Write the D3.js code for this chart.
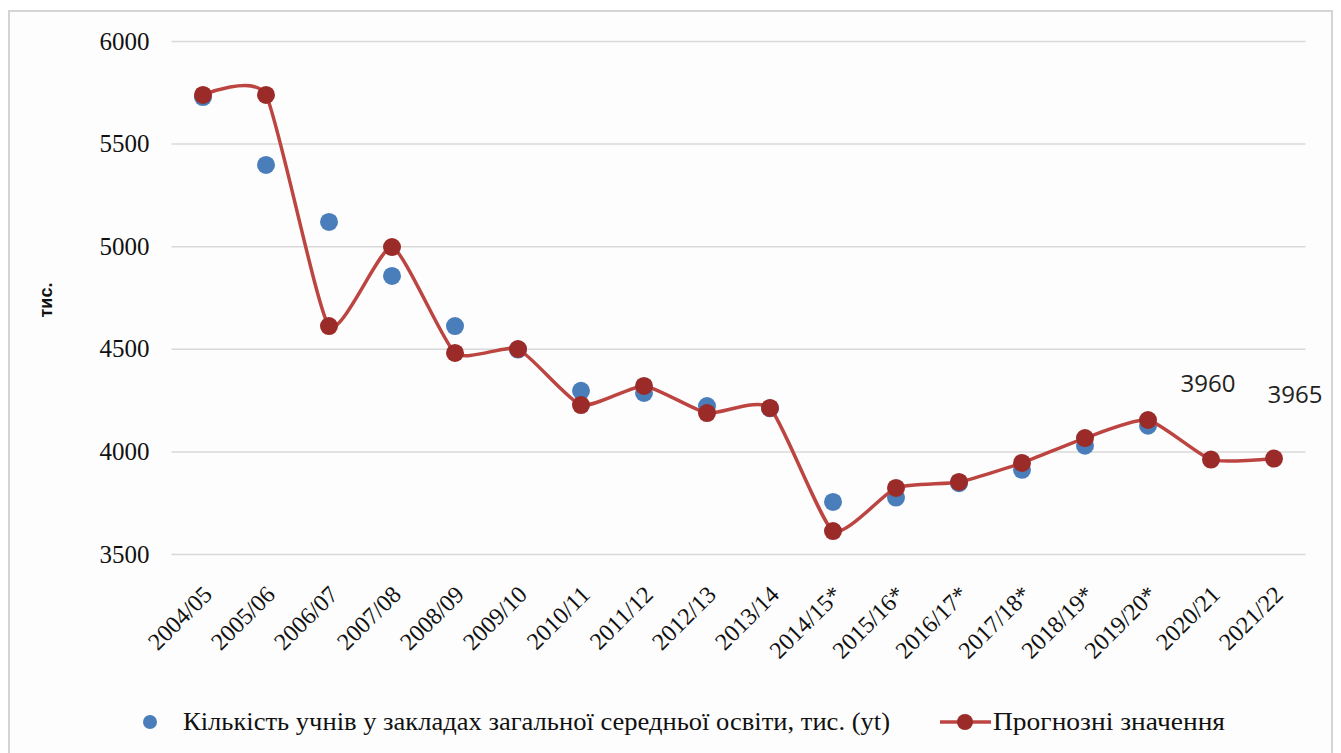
<!DOCTYPE html>
<html>
<head>
<meta charset="utf-8">
<script src="https://cdn.jsdelivr.net/npm/d3@7"></script>
<style>
  body { margin: 0; background: #fff; }
  svg { display: block; }
  .serif { font-family: "Liberation Serif", Tinos, "Noto Serif", "DejaVu Serif", FreeSerif, Times, "Times New Roman", serif; }
</style>
</head>
<body>
<div id="chart"></div>
<script>
// data
var years = ["2004/05", "2005/06", "2006/07", "2007/08", "2008/09", "2009/10",
             "2010/11", "2011/12", "2012/13", "2013/14", "2014/15*", "2015/16*",
             "2016/17*", "2017/18*", "2018/19*", "2019/20*", "2020/21", "2021/22"];
var actual = [5727, 5396, 5118, 4855, 4611, 4496, 4295, 4285, 4221, 4210,
              3754, 3775, 3845, 3910, 4028, 4125, null, null];
var forecast = [5737, 5737, 4611, 4996, 4480, 4499, 4226, 4319, 4187, 4212,
                3612, 3822, 3851, 3944, 4065, 4153, 3960, 3965];
var yTicks = [3500, 4000, 4500, 5000, 5500, 6000];
var labelled = ["2020/21", "2021/22"];

var seriesNames = ["Кількість учнів у закладах загальної середньої освіти, тис. (yt)",
                   "Прогнозні значення"];

var width = 1341, height = 753;

var svg = d3.select("#chart").append("svg")
    .attr("width", width)
    .attr("height", height);

// chart frame
svg.append("rect")
    .attr("x", 9).attr("y", 11)
    .attr("width", 1323).attr("height", 760)
    .attr("fill", "#fdfdfd")
    .attr("stroke", "#d4d4d4")
    .attr("stroke-width", 2);

var x = d3.scalePoint()
    .domain(years)
    .range([171.5, 1305.5])
    .padding(0.5);

var y = d3.scaleLinear()
    .domain([3500, 6000])
    .range([554, 41]);

// gridlines + y labels
var yAxis = svg.append("g")
    .attr("transform", "translate(171.5,0)")
    .call(d3.axisLeft(y).tickValues(yTicks).tickSize(-1134).tickPadding(22).tickFormat(d3.format("d")));
yAxis.attr("font-family", null).attr("font-size", null);
yAxis.select(".domain").remove();
yAxis.selectAll(".tick line").attr("stroke", "#d9d9d9").attr("stroke-width", 1.5);
yAxis.selectAll(".tick text")
    .attr("class", "serif")
    .attr("fill", "#111")
    .attr("font-size", 25);

// x labels
var xAxis = svg.append("g")
    .attr("transform", "translate(0,554)")
    .call(d3.axisBottom(x).tickSize(0).tickPadding(0));
xAxis.attr("font-family", null).attr("font-size", null);
xAxis.select(".domain").remove();
xAxis.selectAll(".tick text")
    .attr("class", "serif")
    .attr("fill", "#111")
    .attr("font-size", 24)
    .attr("text-anchor", "end")
    .attr("x", 0).attr("y", 0).attr("dy", "0.35em")
    .attr("transform", "translate(4,36) rotate(-45)");

// y title
svg.append("text")
    .attr("transform", "translate(52,300) rotate(-90)")
    .attr("text-anchor", "middle")
    .attr("font-family", "Liberation Sans, Arial, sans-serif")
    .attr("font-weight", "bold")
    .attr("font-size", 18)
    .attr("fill", "#111")
    .text("тис.");

var blue = "#4a7ebb", redLine = "#bc4542", redDot = "#9b2b29";

// actual points
svg.append("g").selectAll("circle")
    .data(years.map(function(d, i) { return {year: d, v: actual[i]}; }).filter(function(d) { return d.v != null; }))
    .enter().append("circle")
    .attr("cx", function(d) { return x(d.year); })
    .attr("cy", function(d) { return y(d.v); })
    .attr("r", 9)
    .attr("fill", blue);

var fc = years.map(function(d, i) { return {year: d, v: forecast[i]}; });

var line = d3.line()
    .x(function(d) { return x(d.year); })
    .y(function(d) { return y(d.v); })
    .curve(d3.curveCardinal.tension(0.45));

svg.append("path")
    .datum(fc)
    .attr("d", line)
    .attr("fill", "none")
    .attr("stroke", redLine)
    .attr("stroke-width", 3.5);

svg.append("g").selectAll("circle")
    .data(fc)
    .enter().append("circle")
    .attr("cx", function(d) { return x(d.year); })
    .attr("cy", function(d) { return y(d.v); })
    .attr("r", 9)
    .attr("fill", redDot);

// data labels on the last two forecasts
var labelShift = {"2020/21": [-3, -68], "2021/22": [21, -56]};
svg.append("g").selectAll("text")
    .data(fc.filter(function(d) { return labelled.indexOf(d.year) >= 0; }))
    .enter().append("text")
    .attr("x", function(d) { return x(d.year) + labelShift[d.year][0]; })
    .attr("y", function(d) { return y(d.v) + labelShift[d.year][1]; })
    .attr("text-anchor", "middle")
    .attr("font-family", "Open Sans, Liberation Sans, sans-serif")
    .attr("font-size", 24)
    .attr("fill", "#222")
    .text(function(d) { return d.v; });

// legend
var lg = svg.append("g").attr("transform", "translate(0,722)");
lg.append("circle").attr("cx", 150).attr("cy", 0).attr("r", 7).attr("fill", blue);
lg.append("text")
    .attr("class", "serif")
    .attr("x", 183).attr("y", 8)
    .attr("textLength", 707).attr("lengthAdjust", "spacingAndGlyphs")
    .attr("font-size", 25)
    .attr("fill", "#111")
    .text(seriesNames[0]);
lg.append("line").attr("x1", 940).attr("x2", 991).attr("y1", 0).attr("y2", 0)
    .attr("stroke", redLine).attr("stroke-width", 3.5);
lg.append("circle").attr("cx", 965).attr("cy", 0).attr("r", 8).attr("fill", redDot);
lg.append("text")
    .attr("class", "serif")
    .attr("x", 993).attr("y", 8)
    .attr("textLength", 232).attr("lengthAdjust", "spacingAndGlyphs")
    .attr("font-size", 25)
    .attr("fill", "#111")
    .text(seriesNames[1]);
</script>
</body>
</html>
